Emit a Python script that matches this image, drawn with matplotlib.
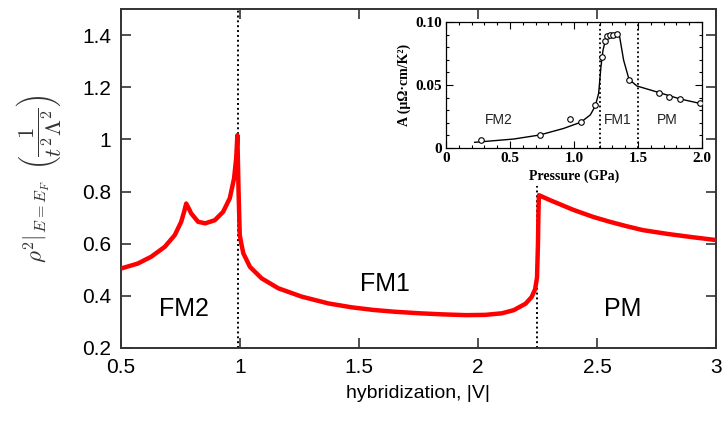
import matplotlib

matplotlib.use("Agg")
import matplotlib.pyplot as plt

plt.rcParams["font.family"] = ["Liberation Sans", "DejaVu Sans"]
plt.rcParams["mathtext.fontset"] = "cm"

# main panel: rho^2 at the Fermi level vs hybridization
hyb = [0.501, 0.571, 0.627, 0.684, 0.726, 0.753, 0.766, 0.774, 0.785, 0.795,
       0.824, 0.854, 0.894, 0.929, 0.957, 0.975, 0.984, 0.989, 0.994, 0.999,
       1.006, 1.014, 1.042, 1.091, 1.161, 1.259, 1.371, 1.469, 1.56, 1.65,
       1.756, 1.85, 1.95, 2.03, 2.10, 2.15, 2.20, 2.225, 2.24, 2.248, 2.252,
       2.254, 2.256, 2.30, 2.40, 2.483, 2.55, 2.62, 2.693, 2.80, 2.90, 3.00]
rho2 = [0.505, 0.524, 0.550, 0.588, 0.633, 0.684, 0.725, 0.754, 0.735, 0.716,
        0.684, 0.678, 0.690, 0.722, 0.774, 0.850, 0.927, 1.016, 0.800, 0.633,
        0.598, 0.563, 0.511, 0.467, 0.429, 0.397, 0.371, 0.356, 0.346, 0.339,
        0.333, 0.329, 0.326, 0.327, 0.333, 0.345, 0.370, 0.395, 0.425, 0.470,
        0.600, 0.720, 0.786, 0.768, 0.730, 0.703, 0.685, 0.668, 0.652, 0.637,
        0.625, 0.614]
transitions = [0.99, 2.25]
phase_labels = ["FM2", "FM1", "PM"]
phase_pos = [(0.765, 0.349), (1.609, 0.445), (2.609, 0.349)]

# inset: measured A coefficient vs pressure
p_pts = [0.276, 0.732, 0.971, 1.055, 1.162, 1.216, 1.242, 1.260, 1.281, 1.307,
         1.333, 1.432, 1.667, 1.745, 1.826, 1.987]
a_pts = [0.0061, 0.0103, 0.0229, 0.0205, 0.0341, 0.0725, 0.0852, 0.0891,
         0.0897, 0.0899, 0.0907, 0.0540, 0.0439, 0.0408, 0.0390, 0.0358]
p_line = [0.224, 0.529, 0.732, 0.919, 1.055, 1.128, 1.167, 1.193, 1.211, 1.227,
          1.247, 1.268, 1.339, 1.357, 1.388, 1.430, 1.492, 1.667, 1.826, 2.0]
a_line = [0.0045, 0.0071, 0.0103, 0.0155, 0.0205, 0.0263, 0.0334, 0.0434,
          0.0645, 0.0776, 0.0860, 0.0897, 0.0908, 0.0882, 0.0697, 0.0545,
          0.0492, 0.0439, 0.0390, 0.0350]
p_transitions = [1.2, 1.5]
inset_labels = ["FM2", "FM1", "PM"]
inset_pos = [(0.41, 0.0224), (1.34, 0.0224), (1.73, 0.0224)]

SERIF = ["Liberation Serif", "DejaVu Serif"]

fig = plt.figure(figsize=(7.28, 4.25), dpi=100, facecolor="white")
ax = fig.add_axes([0.1662, 0.1812, 0.8173, 0.7976])
ax.plot(hyb, rho2, color="#ff0000", lw=3.2, solid_joinstyle="round", zorder=3)
for lab, (xp, yp) in zip(phase_labels, phase_pos):
    ax.text(xp, yp, lab, fontsize=18, ha="center", va="center")
ax.set_xlim(0.5, 3)
ax.set_ylim(0.2, 1.5)
ax.set_xticks([0.5, 1, 1.5, 2, 2.5, 3])
ax.set_xticklabels(["0.5", "1", "1.5", "2", "2.5", "3"])
ax.set_yticks([0.2, 0.4, 0.6, 0.8, 1.0, 1.2, 1.4])
ax.set_yticklabels(["0.2", "0.4", "0.6", "0.8", "1", "1.2", "1.4"])
ax.tick_params(direction="in", length=7, width=1.2, labelsize=15, pad=7,
               top=True, right=True, color="#333333")
for s in ax.spines.values():
    s.set_linewidth(1.4)
    s.set_color("#333333")
ax.set_xlabel("hybridization, |V|", fontsize=14, labelpad=6)
ax.set_ylabel(r"$\left.\rho^2\right|_{E=E_F}\;\;\left(\dfrac{1}{t^2\Lambda^2}\right)$",
              fontsize=16.5, color="#333333", labelpad=13)

# inset (pasted experimental panel)
ins = fig.add_axes([0.6126, 0.6518, 0.3516, 0.2965])
ins.set_zorder(10)
ins.set_facecolor("white")
ins.plot(p_line, a_line, color="black", lw=1.0, zorder=3)
ins.plot(p_pts, a_pts, "o", mfc="white", mec="black", ms=4, mew=0.8, zorder=4)
for xv in p_transitions:
    ins.axvline(xv, color="black", ls=(0, (1, 1.5)), lw=1.3, zorder=2)
for lab, (xp, yp) in zip(inset_labels, inset_pos):
    ins.text(xp, yp, lab, fontsize=10, ha="center", va="center", color="#222222")
ins.set_xlim(0, 2.0)
ins.set_ylim(0, 0.10)
ins.set_xticks([0, 0.5, 1.0, 1.5, 2.0])
ins.set_xticklabels(["0", "0.5", "1.0", "1.5", "2.0"])
ins.set_xticks([i / 10 for i in range(21)], minor=True)
ins.set_yticks([0, 0.05, 0.10])
ins.set_yticklabels(["0", "0.05", "0.10"])
ins.set_yticks([i / 100 for i in range(11)], minor=True)
ins.tick_params(which="both", direction="in", top=True, right=True, width=0.8,
                labelsize=11, pad=3)
ins.tick_params(which="major", length=5)
ins.tick_params(which="minor", length=2.5)
for lab in ins.get_xticklabels() + ins.get_yticklabels():
    lab.set_family(SERIF)
    lab.set_weight("bold")
for s in ins.spines.values():
    s.set_linewidth(0.9)
ins.set_xlabel("Pressure (GPa)", fontsize=10, fontweight="bold",
               family=SERIF, labelpad=3)
ins.set_ylabel("A (μΩ·cm/K²)", fontsize=10, fontweight="bold",
               family=SERIF, labelpad=3)

# transition lines in the main panel stop below the inset block
renderer = fig.canvas.get_renderer()
box = ins.get_tightbbox(renderer)
top_frac = ax.transAxes.inverted().transform((0, box.y0))[1] - 0.01
for xv in transitions:
    xd = ax.transData.transform((xv, 0))[0]
    ymax = top_frac if box.x0 <= xd <= box.x1 else 1.0
    ax.axvline(xv, ymax=ymax, color="black", ls=(0, (1, 1.5)), lw=1.4, zorder=2)

fig.savefig("out.png", dpi=100, facecolor="white")
